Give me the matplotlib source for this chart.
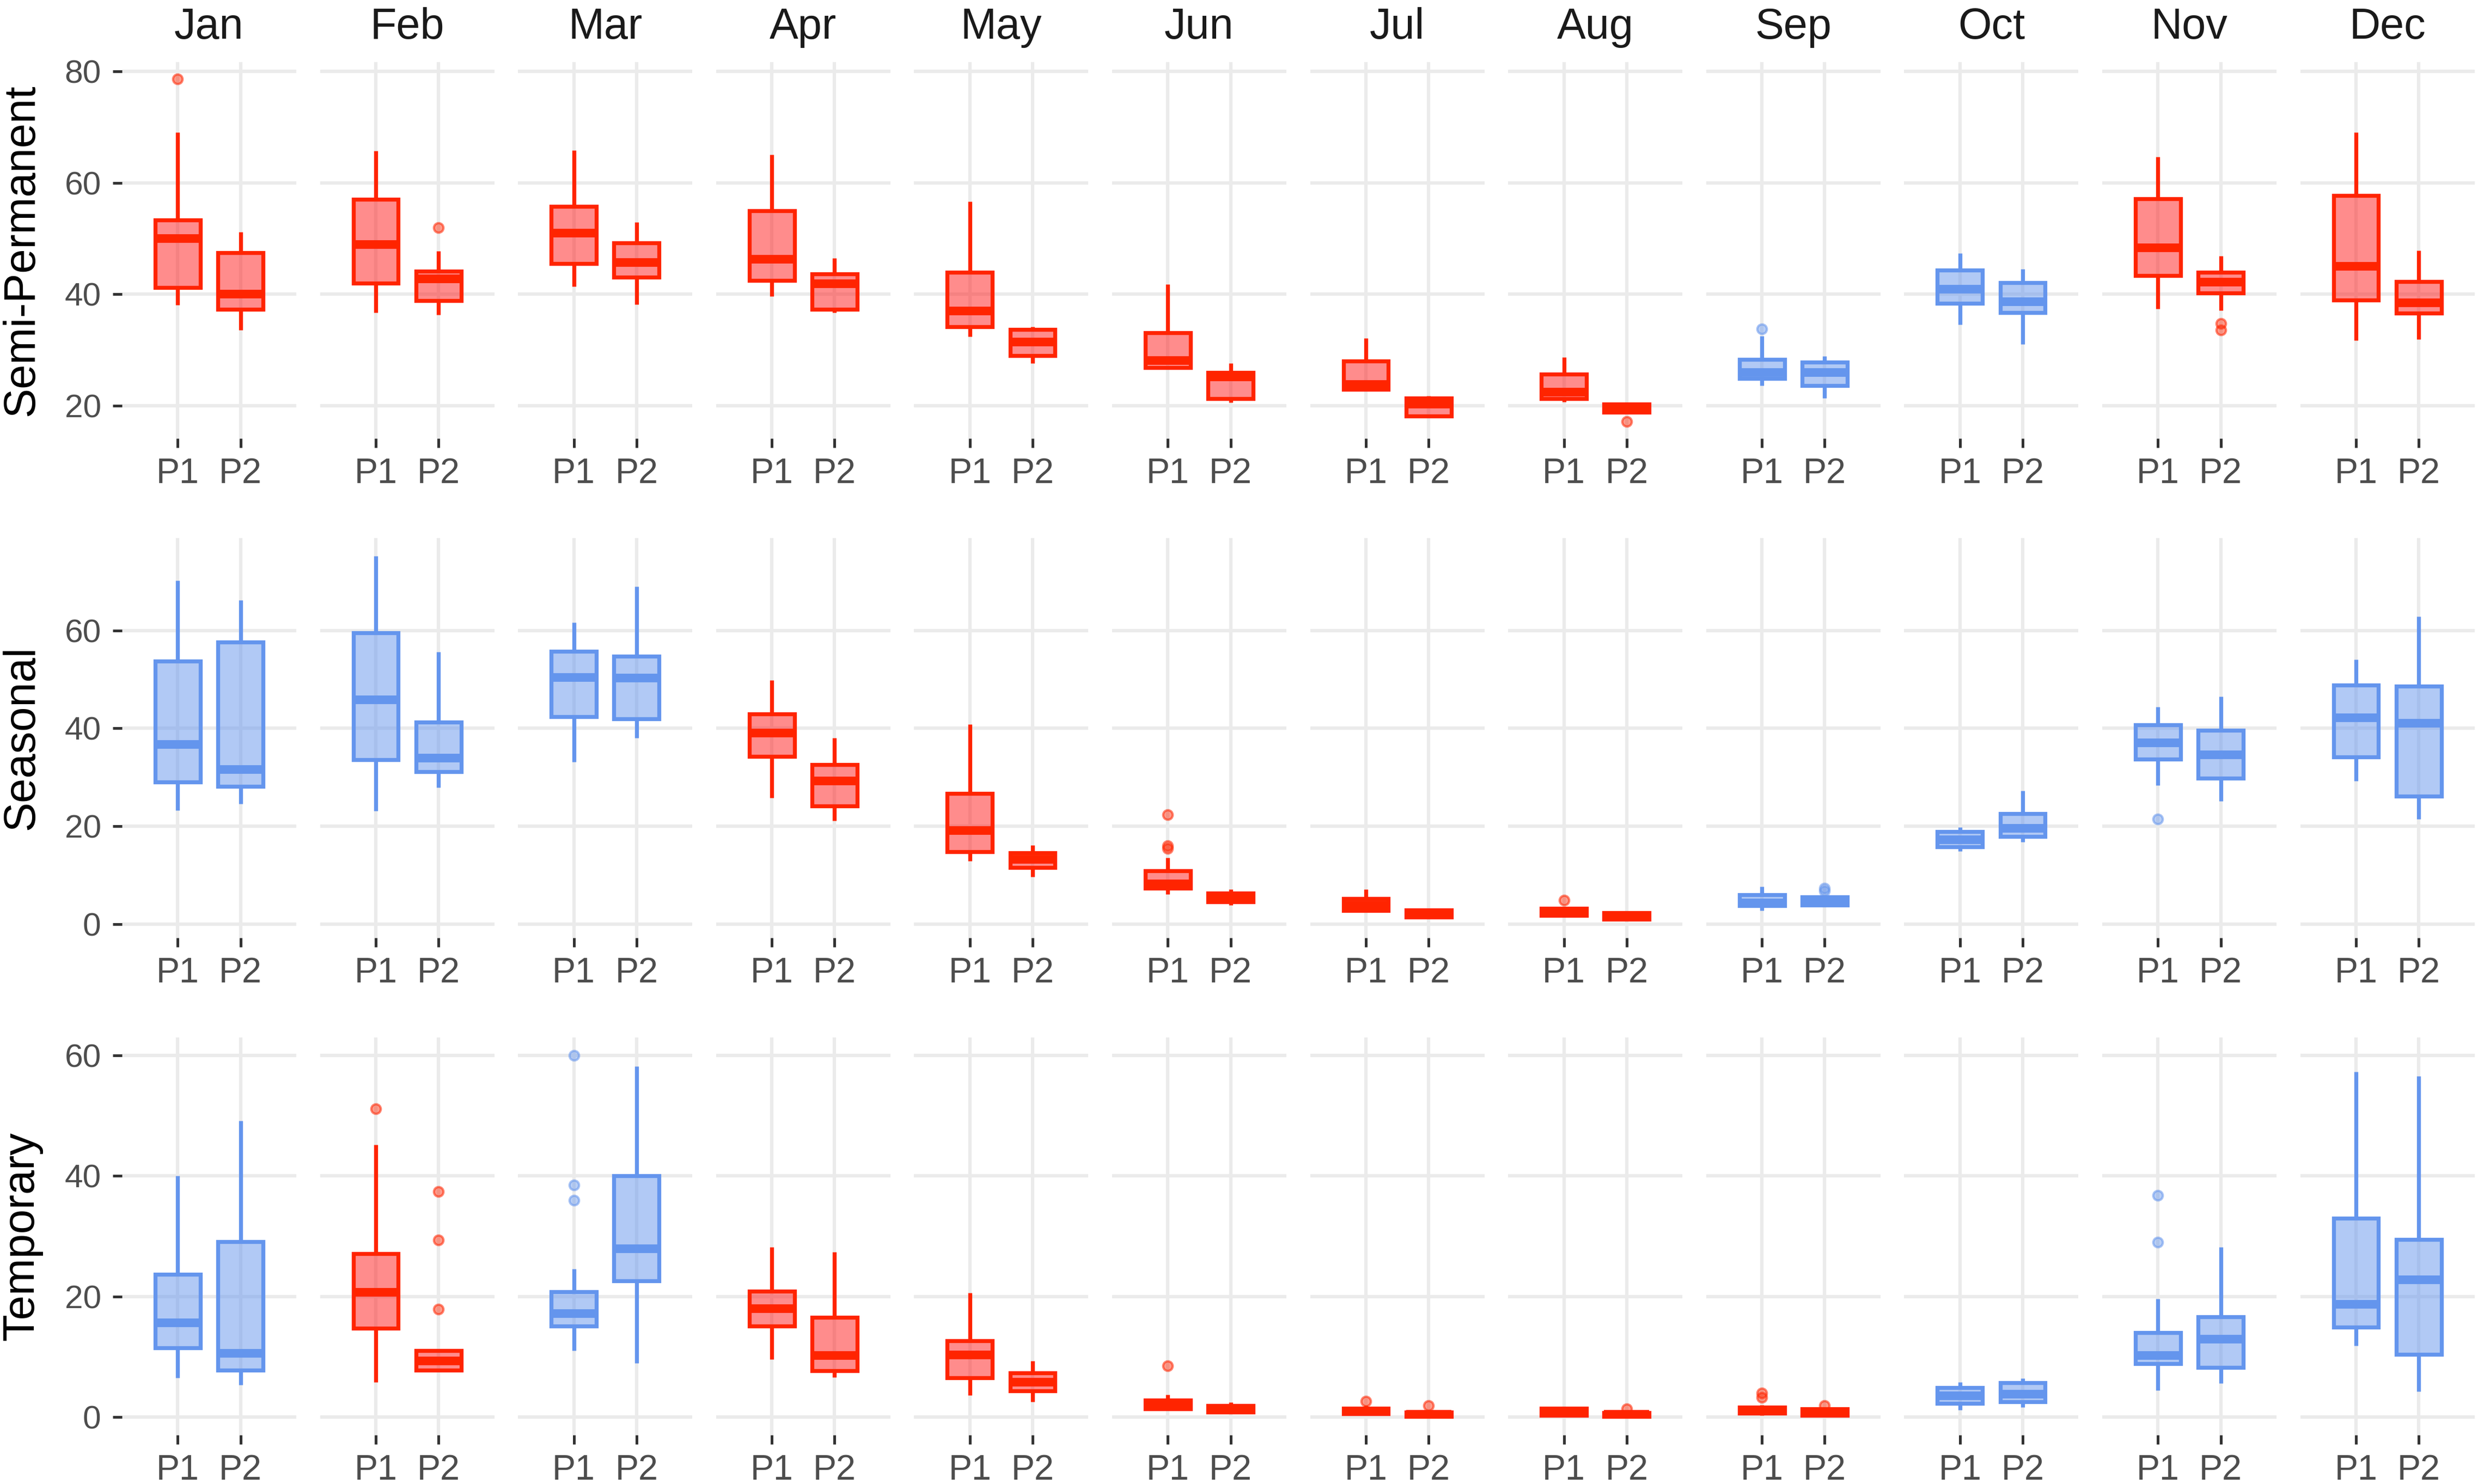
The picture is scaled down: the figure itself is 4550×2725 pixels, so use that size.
import matplotlib
matplotlib.use('Agg')
import matplotlib.pyplot as plt
from matplotlib.colors import to_rgba

plt.rcParams['font.family'] = ['Liberation Sans', 'DejaVu Sans']

MONTHS = ['Jan', 'Feb', 'Mar', 'Apr', 'May', 'Jun', 'Jul', 'Aug', 'Sep', 'Oct', 'Nov', 'Dec']
PERIODS = ['P1', 'P2']
ROW_TITLES = ['Semi-Permanent', 'Seasonal', 'Temporary']
YTICKS = [[20, 40, 60, 80], [0, 20, 40, 60], [0, 20, 40, 60]]

# ---- Semi-Permanent: [P1, P2] per month ----
SP_LO  = [[38.1, 33.6], [36.7, 36.3], [41.4, 38.2], [39.6, 36.7], [32.4, 27.6], [26.6, 20.6],
          [22.6, 17.8], [20.7, 18.7], [23.6, 21.4], [34.6, 31.0], [37.4, 37.1], [31.7, 31.9]]
SP_Q1  = [[41.2, 37.3], [42.0, 38.9], [45.5, 43.1], [42.5, 37.3], [34.2, 29.0], [26.8, 21.3],
          [22.9, 18.1], [21.3, 18.8], [24.9, 23.6], [38.4, 36.7], [43.4, 40.2], [39.0, 36.6]]
SP_MED = [[50.0, 40.0], [48.9, 42.8], [51.0, 45.7], [46.3, 41.9], [37.0, 31.4], [28.1, 25.2],
          [23.8, 20.3], [22.4, 19.5], [26.0, 26.0], [40.9, 38.7], [48.3, 42.2], [45.0, 38.5]]
SP_Q3  = [[53.3, 47.5], [57.0, 44.1], [55.8, 49.2], [55.0, 43.6], [43.9, 33.7], [33.1, 26.0],
          [28.0, 21.4], [25.7, 20.3], [28.3, 27.8], [44.3, 42.1], [57.1, 43.9], [57.7, 42.3]]
SP_HI  = [[69.1, 51.2], [65.7, 47.8], [65.8, 52.9], [65.1, 46.5], [56.6, 34.2], [41.8, 27.6],
          [32.1, 21.8], [28.7, 20.5], [32.5, 28.9], [47.4, 44.5], [64.7, 46.9], [69.1, 47.9]]
SP_OUT = {(0, 0): [78.6], (1, 1): [52.0], (7, 1): [17.2], (8, 0): [33.8], (10, 1): [34.8, 33.6]}
SP_GRP = ['R', 'R', 'R', 'R', 'R', 'R', 'R', 'R', 'B', 'B', 'R', 'R']

# ---- Seasonal ----
SE_LO  = [[23.2, 24.6], [23.1, 27.9], [33.1, 38.1], [25.8, 21.1], [12.9, 9.7], [6.1, 3.9],
          [2.6, 1.3], [1.6, 0.9], [2.7, 3.7], [14.9, 16.8], [28.4, 25.1], [29.3, 21.5]]
SE_Q1  = [[29.0, 28.1], [33.6, 31.1], [42.4, 42.0], [34.3, 24.1], [14.8, 11.6], [7.3, 4.5],
          [2.7, 1.4], [1.7, 1.0], [3.7, 3.9], [15.8, 17.9], [33.7, 29.8], [34.1, 26.1]]
SE_MED = [[36.7, 31.6], [45.8, 33.9], [50.4, 50.3], [39.0, 29.3], [19.1, 13.2], [8.2, 5.5],
          [3.9, 2.1], [2.4, 1.6], [4.3, 4.7], [17.2, 19.6], [37.0, 34.6], [42.2, 41.1]]
SE_Q3  = [[53.7, 57.7], [59.5, 41.3], [55.7, 54.8], [42.9, 32.6], [26.7, 14.6], [10.9, 6.3],
          [5.2, 2.9], [3.2, 2.3], [6.0, 5.5], [18.9, 22.6], [40.7, 39.6], [48.9, 48.6]]
SE_HI  = [[70.2, 66.2], [75.2, 55.6], [61.7, 69.0], [49.9, 38.0], [40.8, 16.1], [13.5, 7.1],
          [7.1, 3.1], [3.4, 2.4], [7.6, 5.6], [19.8, 27.3], [44.4, 46.5], [54.1, 62.9]]
SE_OUT = {(5, 0): [22.3, 16.0, 15.5], (7, 0): [4.9], (8, 1): [7.3, 6.8], (10, 0): [21.5]}
SE_GRP = ['B', 'B', 'B', 'R', 'R', 'R', 'R', 'R', 'B', 'B', 'B', 'B']

# ---- Temporary ----
TE_LO  = [[6.5, 5.3], [5.8, 7.7], [11.0, 8.9], [9.6, 6.6], [3.6, 2.5], [1.1, 0.5],
          [0.3, 0.0], [0.2, 0.0], [0.3, 0.1], [1.2, 1.6], [4.4, 5.6], [11.8, 4.2]]
TE_Q1  = [[11.5, 7.8], [14.7, 7.8], [15.1, 22.6], [15.1, 7.7], [6.5, 4.3], [1.3, 0.8],
          [0.5, 0.1], [0.3, 0.1], [0.6, 0.3], [2.2, 2.5], [8.8, 8.2], [14.9, 10.4]]
TE_MED = [[15.6, 10.6], [20.7, 9.3], [17.2, 27.9], [18.0, 10.2], [10.3, 5.8], [2.0, 1.3],
          [0.9, 0.4], [0.8, 0.4], [1.2, 0.8], [3.5, 3.8], [10.2, 12.9], [18.7, 22.8]]
TE_Q3  = [[23.7, 29.1], [27.1, 11.0], [20.8, 40.0], [20.9, 16.5], [12.6, 7.3], [2.8, 1.9],
          [1.4, 0.8], [1.4, 0.7], [1.6, 1.3], [4.9, 5.7], [14.0, 16.6], [33.0, 29.5]]
TE_HI  = [[40.0, 49.2], [45.2, 11.1], [24.6, 58.2], [28.2, 27.4], [20.6, 9.3], [3.7, 2.4],
          [1.9, 1.1], [1.7, 0.9], [2.0, 1.5], [5.8, 6.4], [19.6, 28.2], [57.3, 56.6]]
TE_OUT = {(1, 0): [51.2], (1, 1): [37.4, 29.4, 17.9], (2, 0): [60.0, 38.5, 36.0],
          (5, 0): [8.5], (6, 0): [2.6], (6, 1): [1.9], (7, 1): [1.3],
          (8, 0): [4.0, 3.2], (8, 1): [1.9], (10, 0): [36.8, 29.0]}
TE_GRP = ['B', 'R', 'B', 'R', 'R', 'R', 'R', 'R', 'R', 'B', 'B', 'B']

ROWS = [
    (SP_LO, SP_Q1, SP_MED, SP_Q3, SP_HI, SP_OUT, SP_GRP),
    (SE_LO, SE_Q1, SE_MED, SE_Q3, SE_HI, SE_OUT, SE_GRP),
    (TE_LO, TE_Q1, TE_MED, TE_Q3, TE_HI, TE_OUT, TE_GRP),
]

COLORS = {'R': '#FF2400', 'B': '#6495ED'}
FILLS = {'R': to_rgba('#FF1A1A', 0.5), 'B': to_rgba('#6495ED', 0.5)}

W, H = 4550, 2725
DPI = 300
fig = plt.figure(figsize=(W / DPI, H / DPI), dpi=DPI)
fig.patch.set_facecolor('white')

PANEL_L0 = 224
PANEL_W = 320
PANEL_STEP = 363.6
ROW_PX = [(114, 805), (988, 1722), (1905, 2635)]

GRID_C = '#EBEBEB'
TICK_C = '#333333'
LAB_C = '#4D4D4D'

for r in range(3):
    lo, q1, med, q3, hi, outl, grp = ROWS[r]
    top, bot = ROW_PX[r]
    allv = [v for row in lo for v in row] + [v for row in hi for v in row] + \
           [v for vs in outl.values() for v in vs]
    vmin, vmax = min(allv), max(allv)
    pad = 0.05 * (vmax - vmin)
    for m in range(12):
        left = PANEL_L0 + m * PANEL_STEP
        ax = fig.add_axes([left / W, 1 - bot / H, PANEL_W / W, (bot - top) / H])
        ax.set_facecolor('white')
        for s in ax.spines.values():
            s.set_visible(False)
        ax.set_xlim(0.111, 2.889)
        ax.set_ylim(vmin - pad, vmax + pad)
        ax.set_axisbelow(True)
        ax.grid(True, color=GRID_C, linewidth=1.5)
        c = COLORS[grp[m]]
        f = FILLS[grp[m]]
        stats = []
        for p in range(2):
            stats.append(dict(med=med[m][p], q1=q1[m][p], q3=q3[m][p],
                              whislo=lo[m][p], whishi=hi[m][p],
                              fliers=outl.get((m, p), [])))
        ax.bxp(stats, positions=[1, 2], widths=0.72, patch_artist=True,
               showcaps=False, manage_ticks=False,
               boxprops=dict(facecolor=f, edgecolor=c, linewidth=1.75, joinstyle='miter'),
               whiskerprops=dict(color=c, linewidth=1.75, solid_capstyle='butt'),
               medianprops=dict(color=c, linewidth=3.8, solid_capstyle='butt'),
               flierprops=dict(marker='o', markersize=4.2, markerfacecolor=to_rgba(c, 0.45),
                               markeredgecolor=to_rgba(c, 0.55), markeredgewidth=1.0,
                               linestyle='none'))
        ax.set_xticks([1, 2])
        ax.set_xticklabels(PERIODS)
        ax.set_yticks(YTICKS[r])
        ax.tick_params(axis='x', length=4.0, width=1.2, color=TICK_C,
                       labelsize=15.5, labelcolor=LAB_C, pad=4.4)
        if m == 0:
            ax.tick_params(axis='y', length=4.2, width=1.2, color=TICK_C,
                           labelsize=14.5, labelcolor=LAB_C, pad=5.0)
        else:
            ax.tick_params(axis='y', length=0, labelleft=False)
        if r == 0:
            cx = (left + PANEL_W / 2) / W
            fig.text(cx, 1 - 50 / H, MONTHS[m], ha='center', va='center',
                     fontsize=19, color='#1A1A1A')
    fig.text(40 / W, 1 - ((top + bot) / 2) / H, ROW_TITLES[r], rotation=90,
             ha='center', va='center', fontsize=19.5, color='black')

fig.savefig('out.png', dpi=DPI, facecolor='white')
